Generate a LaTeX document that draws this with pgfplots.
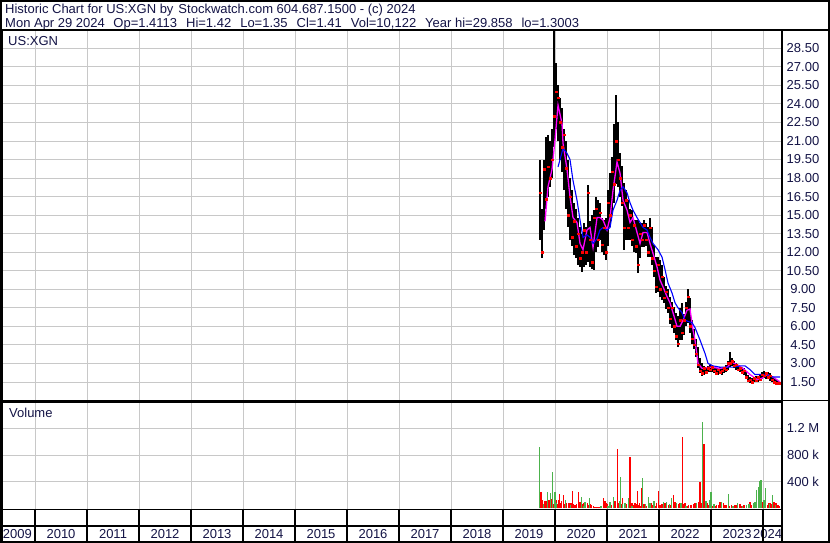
\documentclass[border=0pt]{standalone}
\usepackage{fontspec}
\setmainfont{Liberation Sans}
\usepackage{pgfplots}
\pgfplotsset{compat=1.18}
\usepackage{pgfplotstable}
\definecolor{navy}{RGB}{20,20,70}
\definecolor{gridc}{RGB}{200,200,200}
\definecolor{vgreen}{RGB}{76,178,76}
\newcommand{\lbl}{\fontsize{13}{15}\selectfont}

\pgfplotstableread{
x lo hi cl
2019.712 13.0 19.5 16.8
2019.750 11.5 15.5 12.0
2019.788 13.8 19.5 18.7
2019.827 15.5 21.3 16.3
2019.865 16.5 21.5 18.9
2019.904 17.3 21.0 18.0
2019.942 18.0 22.0 19.5
2019.981 20.5 29.86 23.0
2020.019 22.0 27.3 25.0
2020.058 21.0 25.5 24.5
2020.096 19.5 24.5 22.5
2020.135 18.5 23.7 20.5
2020.173 17.0 22.0 21.5
2020.212 15.5 21.0 18.8
2020.250 14.0 19.5 15.0
2020.288 13.0 18.0 16.5
2020.327 12.5 17.0 13.2
2020.365 11.8 16.0 14.5
2020.404 11.5 15.5 12.5
2020.442 11.0 14.8 13.5
2020.481 10.8 14.0 11.5
2020.519 10.4 13.5 12.0
2020.558 10.8 14.4 13.8
2020.596 11.0 14.0 12.0
2020.635 11.2 17.4 16.8
2020.673 10.8 14.5 13.0
2020.712 10.6 15.0 11.2
2020.750 10.6 15.4 14.8
2020.788 12.0 16.5 15.5
2020.827 12.4 16.2 13.0
2020.865 13.0 16.0 15.2
2020.904 12.0 14.8 12.6
2020.942 11.8 14.6 14.0
2020.981 11.4 14.8 12.0
2021.019 12.5 17.0 16.0
2021.058 14.0 18.4 15.0
2021.096 15.0 19.7 18.5
2021.135 16.0 22.4 17.5
2021.173 17.5 24.7 21.0
2021.212 17.3 22.5 19.5
2021.250 16.5 20.0 18.0
2021.288 15.7 19.0 16.0
2021.327 12.2 17.6 14.0
2021.365 13.0 17.0 16.2
2021.404 13.0 16.2 14.0
2021.442 13.0 15.5 15.0
2021.481 12.5 15.4 13.0
2021.519 12.0 14.6 14.2
2021.558 11.9 14.6 12.5
2021.596 10.3 14.6 11.0
2021.635 11.5 14.4 13.5
2021.673 12.4 14.4 13.0
2021.712 12.4 14.6 14.2
2021.750 12.5 14.4 13.0
2021.788 11.6 14.0 12.0
2021.827 11.6 14.8 14.0
2021.865 11.0 14.0 11.5
2021.904 10.0 12.6 10.5
2021.942 8.7 11.6 9.2
2021.981 8.8 11.6 11.0
2022.019 8.4 11.4 9.0
2022.058 8.1 11.0 10.0
2022.096 7.9 10.0 8.3
2022.135 7.4 9.3 8.8
2022.173 7.1 9.0 7.5
2022.212 6.2 8.4 6.6
2022.250 5.9 8.0 7.5
2022.288 5.5 7.6 6.0
2022.327 4.9 7.1 5.2
2022.365 4.3 6.8 4.6
2022.404 4.9 7.5 6.5
2022.442 4.9 7.9 5.5
2022.481 5.3 7.0 6.5
2022.519 6.0 8.0 7.5
2022.558 6.3 9.0 8.4
2022.596 5.5 8.3 6.0
2022.635 4.6 6.5 5.0
2022.673 4.2 5.8 4.5
2022.712 3.5 5.0 3.8
2022.750 2.6 4.3 2.9
2022.788 2.2 3.4 2.4
2022.827 2.0 3.0 2.2
2022.865 2.1 2.8 2.6
2022.904 2.2 2.7 2.3
2022.942 2.3 2.8 2.6
2022.981 2.3 2.9 2.5
2023.019 2.3 2.8 2.7
2023.058 2.2 2.7 2.4
2023.096 2.1 2.6 2.2
2023.135 2.1 2.6 2.5
2023.173 2.2 2.7 2.3
2023.212 2.1 2.6 2.4
2023.250 2.2 2.7 2.6
2023.288 2.3 2.9 2.5
2023.327 2.5 3.2 3.0
2023.365 2.7 3.9 3.0
2023.404 2.8 3.4 3.2
2023.442 2.6 3.2 2.8
2023.481 2.5 3.0 2.9
2023.519 2.4 2.9 2.5
2023.558 2.3 2.8 2.6
2023.596 2.2 2.7 2.3
2023.635 2.1 2.6 2.4
2023.673 1.8 2.4 1.9
2023.712 1.5 2.1 1.6
2023.750 1.4 1.9 1.7
2023.788 1.4 1.8 1.5
2023.827 1.5 1.9 1.8
2023.865 1.5 2.0 1.6
2023.904 1.5 2.0 1.9
2023.942 1.6 2.1 1.7
2023.981 1.7 2.3 2.1
2024.019 1.8 2.4 2.0
2024.058 1.7 2.3 2.2
2024.096 1.7 2.3 1.9
2024.135 1.6 2.2 2.0
2024.173 1.5 2.0 1.7
2024.212 1.4 1.8 1.5
2024.250 1.3 1.7 1.4
2024.288 1.35 1.6 1.4
2024.327 1.35 1.42 1.41
}\ohlc

\pgfplotstableread{
x y
2019.808 14.5
2019.865 17.3
2019.942 18.7
2020.000 21.1
2020.058 23.9
2020.135 22.4
2020.154 20.8
2020.231 18.7
2020.288 16.5
2020.346 14.8
2020.423 14.4
2020.481 12.7
2020.538 12.2
2020.615 13.8
2020.673 14.0
2020.731 12.4
2020.808 14.8
2020.865 14.8
2020.923 14.6
2021.000 13.8
2021.058 14.8
2021.115 17.0
2021.192 19.3
2021.250 18.4
2021.308 16.2
2021.385 15.4
2021.442 14.4
2021.500 14.8
2021.577 13.6
2021.635 12.7
2021.692 13.6
2021.769 13.6
2021.827 12.7
2021.885 11.9
2021.962 10.8
2022.019 9.75
2022.077 9.2
2022.154 8.4
2022.212 7.9
2022.269 7.1
2022.346 6.0
2022.404 6.0
2022.462 6.5
2022.538 7.3
2022.596 7.4
2022.654 5.7
2022.692 4.9
2022.750 3.0
2022.827 2.6
2022.981 2.7
2023.173 2.6
2023.308 2.7
2023.404 3.1
2023.500 2.9
2023.615 2.6
2023.750 2.1
2023.885 1.7
2023.981 1.8
2024.077 2.1
2024.192 1.9
2024.327 1.5
}\maA

\pgfplotstableread{
x y
2020.058 18.9
2020.154 20.4
2020.231 20.0
2020.288 19.5
2020.346 17.8
2020.423 16.2
2020.481 14.6
2020.538 13.2
2020.615 13.4
2020.673 13.2
2020.731 12.7
2020.808 13.1
2020.865 13.8
2020.923 14.0
2021.000 13.8
2021.058 14.0
2021.115 15.4
2021.192 16.2
2021.250 17.0
2021.308 17.3
2021.385 16.8
2021.442 16.0
2021.500 15.4
2021.577 14.8
2021.635 14.4
2021.692 14.0
2021.769 13.8
2021.827 13.2
2021.885 12.7
2021.981 12.2
2022.058 11.6
2022.115 10.6
2022.173 9.5
2022.250 8.7
2022.308 7.9
2022.365 7.5
2022.442 7.1
2022.500 6.5
2022.558 6.4
2022.635 6.3
2022.692 5.9
2022.788 4.9
2022.885 3.8
2022.942 3.0
2023.038 2.8
2023.173 2.7
2023.327 2.7
2023.423 2.7
2023.558 2.8
2023.654 2.8
2023.750 2.5
2023.846 2.1
2023.942 2.1
2024.077 2.1
2024.192 1.9
2024.327 1.9
}\maB

\pgfplotstableread{
x v
2019.731 250
2019.763 125
2019.808 110
2019.840 110
2019.885 125
2019.937 140
2019.987 150
2020.033 125
2020.063 125
2020.083 215
2020.129 110
2020.160 200
2020.225 75
2020.256 75
2020.288 75
2020.321 75
2020.340 265
2020.385 50
2020.448 240
2020.481 90
2020.544 75
2020.621 75
2020.706 50
2020.769 25
2020.808 25
2020.846 25
2020.929 150
2020.962 110
2020.994 75
2021.154 110
2021.198 890
2021.302 150
2021.442 775
2021.481 75
2021.538 75
2021.583 260
2021.621 75
2021.667 300
2021.731 50
2021.860 75
2021.956 75
2021.994 260
2022.033 50
2022.115 75
2022.179 50
2022.275 200
2022.308 100
2022.390 75
2022.456 1075
2022.500 75
2022.563 50
2022.629 50
2022.692 75
2022.756 100
2022.788 390
2022.865 965
2022.929 75
2023.044 50
2023.110 50
2023.173 100
2023.237 75
2023.302 50
2023.398 50
2023.462 50
2023.558 60
2023.621 50
2023.750 90
2023.994 100
2024.102 75
2024.135 75
2024.212 90
2024.250 75
2024.294 50
2019.750 60
2019.823 80
2019.905 90
2019.970 70
2020.048 60
2020.112 80
2020.190 60
2020.270 50
2020.360 60
2020.410 70
2020.465 50
2020.525 60
2020.590 40
2020.640 50
2020.680 60
2020.740 30
2020.870 30
2021.010 60
2021.080 50
2021.140 70
2021.215 80
2021.280 60
2021.330 70
2021.380 60
2021.460 60
2021.510 50
2021.560 60
2021.600 50
2021.640 40
2021.710 60
2021.760 40
2021.880 50
2021.920 40
2022.010 50
2022.060 60
2022.140 60
2022.210 50
2022.330 50
2022.370 60
2022.420 50
2022.480 60
2022.540 40
2022.600 50
2022.660 60
2022.710 50
2022.810 80
2022.890 60
2022.950 50
2023.020 40
2023.080 40
2023.140 50
2023.200 40
2023.270 50
2023.360 40
2023.430 40
2023.500 50
2023.590 40
2023.650 50
2023.720 60
2023.780 50
2023.830 60
2023.920 60
2024.000 70
2024.040 60
2024.080 50
2024.160 60
2024.230 70
2024.270 50
2024.310 40
}\volr

\pgfplotstableread{
x v
2019.698 925
2019.852 250
2019.917 225
2019.956 550
2020.000 250
2020.206 125
2020.513 175
2020.577 100
2020.660 150
2020.885 30
2021.058 100
2021.121 175
2021.237 110
2021.263 475
2021.346 75
2021.410 150
2021.687 450
2021.794 175
2021.827 75
2021.904 110
2022.083 90
2022.148 100
2022.244 150
2022.340 75
2022.423 75
2022.725 75
2022.833 1300
2022.904 110
2022.967 125
2023.000 240
2023.206 90
2023.340 210
2023.506 75
2023.687 50
2023.813 75
2023.846 100
2023.879 275
2023.910 325
2023.942 410
2023.962 420
2024.019 125
2024.052 310
2024.187 200
2019.780 60
2020.020 80
2020.300 50
2020.560 40
2021.020 40
2021.300 60
2021.480 40
2021.740 60
2022.200 60
2022.520 40
2023.060 60
2023.420 40
2023.600 40
2023.730 60
2024.120 60
2024.240 50
}\volg

\begin{document}
\begin{tikzpicture}[x=1pt,y=1pt]
\fill[white] (0,0) rectangle (830,543);
\path[use as bounding box] (0,0) rectangle (830,543);

\pgfplotsset{
  every axis/.append style={
    scale only axis, anchor=south west, width=780pt,
    xmin=2009.365, xmax=2024.365,
    major tick length=0pt,
    tick label style={font=\lbl, text=navy},
    /pgf/number format/assume math mode=true,
  },
}

% price panel
\begin{axis}[
  at={(2pt,142.5pt)}, height=370pt,
  ymin=0, ymax=29.94,
  xtick={2010,2011,2012,2013,2014,2015,2016,2017,2018,2019,2020,2021,2022,2023,2024},
  xticklabels={},
  ytick={1.5,3,4.5,6,7.5,9,10.5,12,13.5,15,16.5,18,19.5,21,22.5,24,25.5,27,28.5},
  yticklabel pos=right,
  yticklabel style={anchor=center, xshift=21pt,
    /pgf/number format/fixed, /pgf/number format/fixed zerofill,
    /pgf/number format/precision=2},
  grid=major, major grid style={gridc, line width=0.9pt},
  axis line style={black, line width=1.5pt},
]
\addplot[draw=none, mark=none, forget plot,
  error bars/.cd, y dir=both, y explicit, error mark=none,
  error bar style={draw=black, solid, line width=1.9pt}]
  table[x=x, y expr={(\thisrow{lo}+\thisrow{hi})/2},
        y error expr={(\thisrow{hi}-\thisrow{lo})/2}] {\ohlc};
\addplot[only marks, mark=square*, mark size=0.75pt, red] table[x=x, y=cl] {\ohlc};
\addplot[no marks, color={rgb,255:red,255;green,0;blue,255}, line width=1.3pt] table[x=x,y=y] {\maA};
\addplot[no marks, color={rgb,255:red,0;green,0;blue,255}, line width=1.1pt] table[x=x,y=y] {\maB};
\end{axis}

% volume panel
\begin{axis}[
  at={(2pt,33.5pt)}, height=107.3pt,
  ymin=-16, ymax=1591,
  xtick={2010,2011,2012,2013,2014,2015,2016,2017,2018,2019,2020,2021,2022,2023,2024},
  xticklabels={},
  ytick={400,800,1200},
  yticklabels={400 k,800 k,1.2 M},
  yticklabel pos=right,
  yticklabel style={anchor=center, xshift=21pt},
  grid=major, major grid style={gridc, line width=0.9pt},
  axis line style={black, line width=1.5pt},
]
\addplot[ycomb, no marks, color=red, line width=1.3pt] table[x=x,y=v] {\volr};
\addplot[ycomb, no marks, color=vgreen, line width=1.3pt] table[x=x,y=v] {\volg};
\end{axis}

% year strip
\begin{axis}[
  at={(2pt,1.5pt)}, height=32pt,
  ymin=0, ymax=1, ytick=\empty,
  xtick={2009.66,2010.5,2011.5,2012.5,2013.5,2014.5,2015.5,2016.5,2017.5,2018.5,2019.5,2020.5,2021.5,2022.5,2023.5,2024.09},
  xticklabels={2009,2010,2011,2012,2013,2014,2015,2016,2017,2018,2019,2020,2021,2022,2023,2024},
  xticklabel style={anchor=center, yshift=7.3pt},
  extra x ticks={2010,2011,2012,2013,2014,2015,2016,2017,2018,2019,2020,2021,2022,2023,2024},
  extra x tick labels={},
  extra x tick style={grid=major, major grid style={black, line width=1.2pt}},
  axis line style={black, line width=1.5pt},
]
\draw[black, line width=1.5pt] (rel axis cs:0,0.484) -- (rel axis cs:1,0.484);
\end{axis}

% header and frame
\node[anchor=base west, inner sep=0pt, font=\lbl, text=navy] at (5,529.6)
  {Historic Chart for US:XGN by\hspace{5pt}Stockwatch.com 604.687.1500 - (c) 2024};
\node[anchor=base west, inner sep=0pt, font=\lbl, text=navy] at (5,515.5)
  {Mon Apr 29 2024\hspace{8.5pt}Op=1.4113\hspace{9pt}Hi=1.42\hspace{9pt}Lo=1.35\hspace{9pt}Cl=1.41\hspace{9pt}Vol=10,122\hspace{9pt}Year hi=29.858\hspace{9pt}lo=1.3003};
\node[anchor=base west, inner sep=0pt, font=\lbl, text=navy] at (8,497.5) {US:XGN};
\node[anchor=base west, inner sep=0pt, font=\lbl, text=navy] at (9,125.3) {Volume};

\draw[line width=2pt] (1,1) rectangle (829,542);
\draw[line width=2pt] (0,513) -- (830,513);
\draw[line width=1.5pt] (782,2) -- (782,513);
\draw[line width=1.5pt] (782,142.5) -- (830,142.5);
\end{tikzpicture}
\end{document}
